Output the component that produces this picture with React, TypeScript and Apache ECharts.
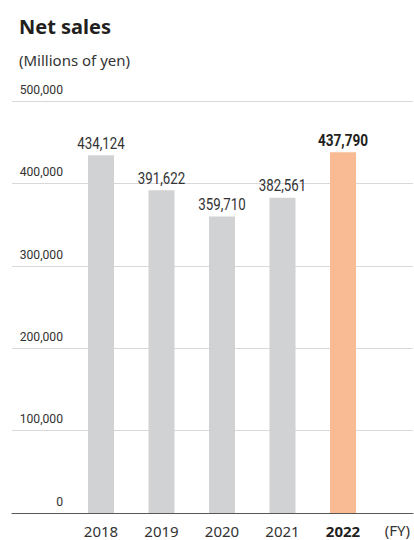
import React, { useEffect, useRef } from "react";
import * as echarts from "echarts";

const title = "Net sales";
const unitLabel = "(Millions of yen)";
const fyLabel = "(FY)";
const years = ["2018", "2019", "2020", "2021", "2022"];
const netSales = [434124, 391622, 359710, 382561, 437790];
const highlightYear = "2022";
const yTicks = [0, 100000, 200000, 300000, 400000, 500000];

const COND = "Roboto, 'Noto Sans', sans-serif";
const SANS = "'Noto Sans', 'Open Sans', sans-serif";
const fmt = (v: number) => v.toLocaleString("en-US");

export default function App() {
  const ref = useRef<HTMLDivElement>(null);
  useEffect(() => {
    if (!ref.current) return;
    const chart = echarts.init(ref.current, null, { renderer: "svg" });
    const yMax = yTicks[yTicks.length - 1];
    const yInt = yTicks[1] - yTicks[0];
    chart.setOption({
      animation: false,
      backgroundColor: "#ffffff",
      title: [
        {
          text: title,
          left: 19,
          top: 16,
          padding: 0,
          textStyle: { fontFamily: SANS, fontSize: 20, fontWeight: "bold", color: "#231f20" },
        },
        {
          text: unitLabel,
          left: 19,
          top: 52,
          padding: 0,
          textStyle: { fontFamily: SANS, fontSize: 15, fontWeight: "normal", color: "#333333" },
        },
      ],
      graphic: [
        {
          type: "text",
          right: 4,
          top: 522,
          style: { text: fyLabel, font: `15px ${SANS}`, fill: "#333333" },
        },
      ],
      grid: [
        { left: 12, right: 1, top: 101, bottom: 27 },
        { left: 70.75, width: 302.5, top: 101, bottom: 27 },
      ],
      xAxis: [
        {
          gridIndex: 0,
          type: "value",
          min: 0,
          max: 1,
          axisLine: { show: true, onZero: false, lineStyle: { color: "#595757", width: 1 } },
          axisTick: { show: false },
          axisLabel: { show: false },
          splitLine: { show: false },
        },
        {
          gridIndex: 1,
          type: "category",
          data: years,
          axisLine: { show: false },
          axisTick: { show: false },
          axisLabel: {
            interval: 0,
            margin: 10,
            fontFamily: SANS,
            fontSize: 15,
            color: "#333333",
            formatter: (v: string) => (v === highlightYear ? `{b|${v}}` : v),
            rich: { b: { fontFamily: SANS, fontSize: 15, fontWeight: "bold", color: "#231f20" } },
          },
        },
      ],
      yAxis: [
        {
          gridIndex: 0,
          type: "value",
          min: 0,
          max: yMax,
          interval: yInt,
          axisLine: { show: false },
          axisTick: { show: false },
          splitLine: { show: true, lineStyle: { color: "#d9d9d9", width: 1 } },
          axisLabel: { show: false },
        },
        {
          gridIndex: 1,
          type: "value",
          min: 0,
          max: yMax,
          interval: yInt,
          show: false,
          splitLine: { show: false },
        },
      ],
      series: [
        {
          type: "bar",
          xAxisIndex: 1,
          yAxisIndex: 1,
          barWidth: 26,
          data: netSales.map((v, i) => ({
            value: v,
            itemStyle: { color: years[i] === highlightYear ? "#f9bb93" : "#d1d2d4" },
          })),
        },
        {
          // value labels above bars, narrowed to mimic a condensed face
          type: "custom",
          xAxisIndex: 1,
          yAxisIndex: 1,
          silent: true,
          data: netSales.map((v, i) => [i, v]),
          renderItem: (params: any, api: any) => {
            const i = api.value(0);
            const v = api.value(1);
            const pt = api.coord([i, v]);
            const hl = years[i] === highlightYear;
            return {
              type: "text",
              x: pt[0],
              y: pt[1] - 4,
              scaleX: hl ? 0.85 : 0.83,
              style: {
                text: fmt(v),
                font: `${hl ? "bold " : ""}16px ${COND}`,
                fill: hl ? "#231f20" : "#333333",
                align: "center",
                verticalAlign: "bottom",
              },
            };
          },
        },
        {
          // y tick labels, right aligned above each gridline
          type: "custom",
          xAxisIndex: 0,
          yAxisIndex: 0,
          silent: true,
          data: yTicks.map((t) => [0, t]),
          renderItem: (params: any, api: any) => {
            const v = api.value(1);
            const pt = api.coord([0, v]);
            return {
              type: "text",
              x: 63,
              y: pt[1] - 5,
              scaleX: 0.9,
              style: {
                text: fmt(v),
                font: `13.5px ${COND}`,
                fill: "#333333",
                align: "right",
                verticalAlign: "bottom",
              },
            };
          },
        },
      ],
    });
    return () => chart.dispose();
  }, []);
  return (
    <div
      ref={ref}
      style={{ position: "absolute", left: 0, top: 0, width: 414, height: 540 }}
    />
  );
}
